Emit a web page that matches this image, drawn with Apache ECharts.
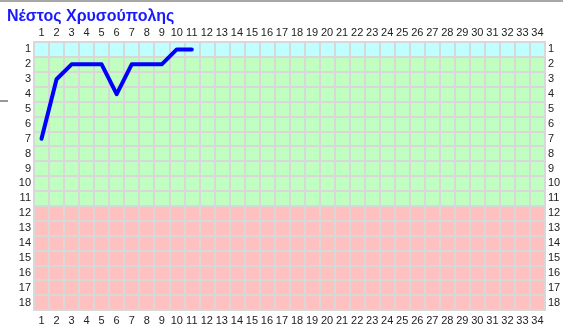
<!DOCTYPE html>
<html>
<head>
<meta charset="utf-8">
<script src="https://cdn.jsdelivr.net/npm/echarts@6/dist/echarts.min.js"></script>
<style>
html,body{margin:0;padding:0;background:#fff;}
#chart{width:573px;height:332px;}
</style>
</head>
<body>
<div id="chart"></div>
<script>
var titleText = 'Νέστος Χρυσούπολης';
var rounds = ['1','2','3','4','5','6','7','8','9','10','11','12','13','14','15','16','17','18','19','20','21','22','23','24','25','26','27','28','29','30','31','32','33','34'];
var positionsLabels = ['1','2','3','4','5','6','7','8','9','10','11','12','13','14','15','16','17','18'];
var playedRounds = ['1','2','3','4','5','6','7','8','9','10','11'];
var positions = ['7','3','2','2','2','4','2','2','2','1','1'];

var bandColors = ['#c0ffff','#c0ffc0','#c0ffc0','#c0ffc0','#c0ffc0','#c0ffc0','#c0ffc0','#c0ffc0','#c0ffc0','#c0ffc0','#c0ffc0','#ffc0c0','#ffc0c0','#ffc0c0','#ffc0c0','#ffc0c0','#ffc0c0','#ffc0c0'];

var chart = echarts.init(document.getElementById('chart'));
var labelStyle = {color:'#222', fontFamily:'Liberation Sans, Arial, sans-serif', fontSize:11};
var gridLine = {show:true, lineStyle:{color:'#d8d8d8', width:2}};
function xAx(pos, margin){
  return {type:'category', data:rounds, position:pos, boundaryGap:true,
    axisLine:{show:true, lineStyle:{color:'#d8d8d8', width:2}}, axisTick:{show:false},
    axisLabel:Object.assign({interval:0, margin:margin}, labelStyle),
    splitLine:gridLine};
}
function yAx(pos, margin, align){
  return {type:'category', data:positionsLabels, position:pos, inverse:true, boundaryGap:true,
    axisLine:{show:true, lineStyle:{color:'#d8d8d8', width:2}}, axisTick:{show:false},
    axisLabel:Object.assign({interval:0, margin:margin, align:align}, labelStyle),
    splitLine:gridLine,
    splitArea: pos==='left' ? {show:true, interval:0, areaStyle:{color:bandColors}} : {show:false}};
}
chart.setOption({
  animation:false,
  title:{text:titleText, left:2, top:4, textStyle:{color:'#1a1aff', fontSize:16, fontWeight:'bold', fontFamily:'Liberation Sans, Arial, sans-serif'}},
  grid:{left:34, right:28, top:42, bottom:22, containLabel:false},
  xAxis:[xAx('bottom',5), xAx('top',4)],
  yAxis:[yAx('left',3,'right'), yAx('right',3,'left')],
  graphic:[
    {type:'line', shape:{x1:0,y1:1,x2:563,y2:1}, style:{stroke:'#a8a8a8', lineWidth:2}},
    {type:'line', shape:{x1:0,y1:101,x2:8,y2:101}, style:{stroke:'#333', lineWidth:1}}
  ],
  series:[{
    type:'line', xAxisIndex:0, yAxisIndex:0,
    data: playedRounds.map(function(r,i){return [r, positions[i]];}),
    showSymbol:false, symbol:'none',
    lineStyle:{color:'#0000ff', width:4, cap:'round', join:'round'}
  }]
});
</script>
</body>
</html>
